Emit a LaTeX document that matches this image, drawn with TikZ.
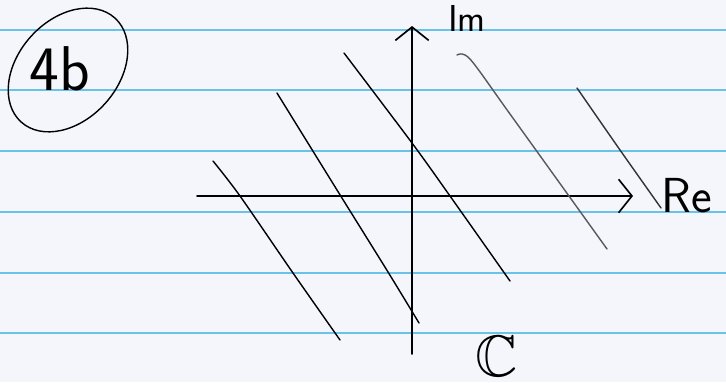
\documentclass[tikz,border=0pt]{standalone}
\usepackage{amssymb}
\usetikzlibrary{arrows.meta}
\definecolor{paper}{RGB}{244,246,251}
\definecolor{ruling}{RGB}{105,195,232}
\tikzset{
  pen/.style={line width=1.2pt,line cap=round},
  axis/.style={line width=1.4pt,line cap=round,-{Straight Barb[length=4mm,width=10mm]}},
  lbl/.style={inner sep=0pt},
}
\begin{document}
\begin{tikzpicture}[x=.03cm,y=.03cm]
  \fill[paper] (0,0) rectangle (726,382); \useasboundingbox (0,0) rectangle (726,382);
  \foreach \y in {352,292,231,170,109,49} \draw[ruling,line width=1.1pt] (0,\y)--(726,\y);
  % axes of the plane
  \coordinate (reL) at (197,186); \coordinate (reR) at (633,186);
  \coordinate (imB) at (412,28); \coordinate (imT) at (412,356);
  \draw[axis] (reL)--(reR); \draw[axis] (imB)--(imT);
  \node[lbl,font=\sffamily\fontsize{32}{34}\selectfont] (im) at (467,364) {Im};
  \node[lbl,font=\sffamily\fontsize{42}{44}\selectfont] (re) at (687,186) {Re};
  \node[lbl,font=\fontsize{50}{52}\selectfont] (cc) at (497,26) {$\mathbb{C}$};
  % the parallel lines
  \draw[pen] plot[smooth] coordinates {(213,221) (240,186) (293,109) (340,42)};
  \draw[pen] plot[smooth] coordinates {(277,289) (337,192) (388,110) (419,59)};
  \draw[pen] plot[smooth] coordinates {(344,329) (412,239) (450,186) (510,101)};
  \draw[pen,black!65] plot[smooth] coordinates {(457,327) (470,323) (510,268) (607,133)};
  \draw[pen,black!80] plot[smooth] coordinates {(577,294) (620,232) (661,174)};
  % circled tag
  \node[lbl,font=\sffamily\fontsize{54}{56}\selectfont] (tag) at (60,313) {4b};
  \draw[pen,rotate around={48:(68,312)}] (68,312) ellipse [x radius=70,y radius=50];
\end{tikzpicture}
\end{document}
